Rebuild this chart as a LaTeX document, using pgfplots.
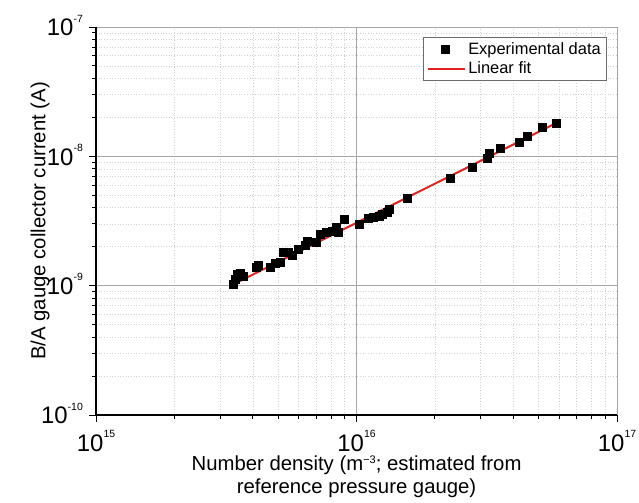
\documentclass[border=0pt]{standalone}
\usepackage{pgfplots}
\pgfplotsset{compat=1.18}
\usepackage{pgfplotstable}
\usepackage{fontspec}
\setmainfont{Liberation Sans}
\definecolor{fitred}{RGB}{228,32,32}
\definecolor{majgrid}{RGB}{170,165,165}
\definecolor{mingrid}{RGB}{210,210,210}
\newcommand\xtl[1]{\fontsize{24}{24}\selectfont 10\raisebox{13.5bp}{\fontsize{10.5}{10.5}\selectfont #1}}
\pgfplotsset{
  fitlegend/.style={legend image code/.code={\draw[##1] (0bp,0bp) -- (37bp,0bp);}},
  marklegend/.style={legend image code/.code={\draw[##1] plot coordinates {(17bp,0bp)};}},
}
\pgfplotstableread{
x y
3.36e15 1.035e-9
3.42e15 1.13e-9
3.49e15 1.22e-9
3.58e15 1.26e-9
3.68e15 1.19e-9
4.12e15 1.38e-9
4.20e15 1.45e-9
4.67e15 1.40e-9
4.88e15 1.48e-9
5.10e15 1.53e-9
5.24e15 1.80e-9
5.47e15 1.80e-9
5.67e15 1.71e-9
5.98e15 1.90e-9
6.37e15 2.07e-9
6.48e15 2.22e-9
7.02e15 2.15e-9
7.27e15 2.48e-9
7.67e15 2.61e-9
8.09e15 2.66e-9
8.38e15 2.81e-9
8.53e15 2.61e-9
8.99e15 3.29e-9
1.028e16 3.01e-9
1.11e16 3.35e-9
1.16e16 3.41e-9
1.22e16 3.47e-9
1.26e16 3.60e-9
1.31e16 3.72e-9
1.34e16 3.93e-9
1.57e16 4.78e-9
2.28e16 6.82e-9
2.77e16 8.30e-9
3.16e16 9.73e-9
3.22e16 1.06e-8
3.55e16 1.16e-8
4.20e16 1.29e-8
4.51e16 1.44e-8
5.15e16 1.69e-8
5.82e16 1.81e-8
}\expdata
\pgfplotstableread{
x y
3.35e15 1.02e-9
5.85e16 1.81e-8
}\fitdata
\begin{document}
\begin{tikzpicture}
\begin{axis}[
  at={(0,0)}, anchor=south west,
  scale only axis, width=521bp, height=388bp,
  xmode=log, ymode=log,
  xmin=1e15, xmax=1e17, ymin=1e-10, ymax=1e-7,
  axis x line*=bottom, axis y line*=left,
  axis line style={black, line width=1.2bp},
  tick align=outside,
  major tick length=7bp, minor tick length=4bp,
  every tick/.style={black, line width=1bp},
  grid=both,
  major grid style={draw=majgrid, line width=0.9bp},
  minor grid style={draw=mingrid, line width=0.7bp, dotted},
  xtick={1e15,1e16,1e17},
  xticklabels={\xtl{15},\xtl{16},\xtl{17}},
  ytick={1e-10,1e-9,1e-8,1e-7},
  yticklabels={\xtl{-10},\xtl{-9},\xtl{-8},\xtl{-7}},
  xticklabel style={anchor=base, inner sep=0pt, yshift=-29bp},
  yticklabel style={anchor=base east, inner sep=0pt, xshift=-6bp, yshift=-8.7bp},
  xlabel={Number density (m\raisebox{7bp}{\fontsize{11}{11}\selectfont −3}; estimated from\\reference pressure gauge)},
  xlabel style={at={(axis description cs:0.5,-0.16)}, anchor=center, align=center, font=\fontsize{20.4}{23}\selectfont},
  ylabel={B/A gauge collector current (A)},
  ylabel style={at={(axis description cs:-0.1075,0.5)}, anchor=center, font=\fontsize{20.4}{23}\selectfont},
  legend style={at={(rel axis cs:0.981,0.974)}, anchor=north east,
    draw=gray!85!black, line width=0.8bp, font=\fontsize{16.5}{19}\selectfont,
    inner xsep=4bp, inner ysep=3bp, row sep=2bp},
  legend cell align=left,
]
\addplot[only marks, mark=square*, mark size=4bp, mark options={fill=black, draw=black}, marklegend]
  table[x=x,y=y]{\expdata};
\addlegendentry{Experimental data}
\addplot[fitred, line width=2bp, fitlegend]
  table[x=x,y=y]{\fitdata};
\addlegendentry{Linear fit}
\end{axis}
\pgfresetboundingbox
\useasboundingbox (-96bp,-88bp) rectangle (543bp,415bp);
\end{tikzpicture}
\end{document}
